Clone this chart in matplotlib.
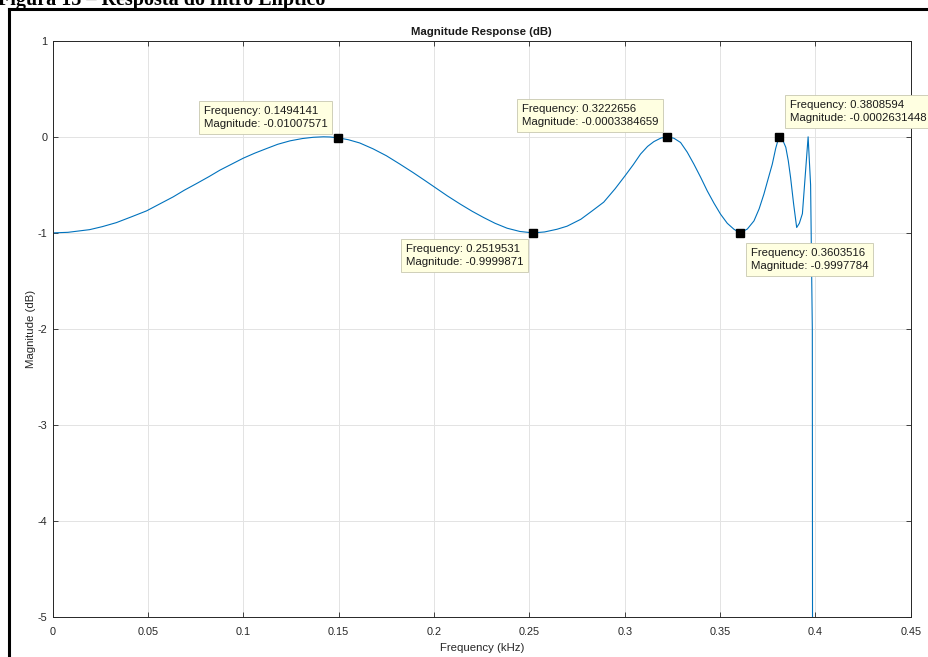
#!/usr/bin/env python3
"""
Magnitude response of the elliptic filter (recreated from a MATLAB fvtool figure)
"""

import matplotlib.pyplot as plt
from matplotlib.lines import Line2D

# -------------------------------
# Data
# -------------------------------
freq_khz = [0.0000, 0.0080, 0.0194, 0.0260, 0.0334, 0.0410, 0.0492, 0.0560,
            0.0632, 0.0690, 0.0755, 0.0820, 0.0877, 0.0940, 0.1000, 0.1060,
            0.1122, 0.1180, 0.1245, 0.1310, 0.1367, 0.1420, 0.1455, 0.1494,
            0.1550, 0.1610, 0.1680, 0.1750, 0.1820, 0.1890, 0.1950, 0.2006,
            0.2070, 0.2138, 0.2200, 0.2260, 0.2320, 0.2383, 0.2450, 0.2520,
            0.2580, 0.2645, 0.2698, 0.2770, 0.2830, 0.2890, 0.2950, 0.3004,
            0.3045, 0.3083, 0.3120, 0.3153, 0.3190, 0.3223, 0.3258, 0.3293,
            0.3328, 0.3363, 0.3398, 0.3433, 0.3468, 0.3503, 0.3538, 0.3573,
            0.3604, 0.3643, 0.3678, 0.3705, 0.3730, 0.3752, 0.3774, 0.3792,
            0.3809, 0.3828, 0.3845, 0.3858, 0.3870, 0.3886, 0.3902, 0.3916,
            0.3932, 0.3947, 0.3962, 0.3975, 0.3984, 0.3994]
mag_db = [-1.000, -0.994, -0.966, -0.935, -0.893, -0.835, -0.771, -0.700,
          -0.625, -0.556, -0.486, -0.414, -0.347, -0.283, -0.222, -0.170,
          -0.122, -0.078, -0.042, -0.018, -0.005, 0.000, -0.002, -0.010,
          -0.030, -0.064, -0.125, -0.197, -0.283, -0.372, -0.452, -0.528,
          -0.615, -0.701, -0.775, -0.840, -0.900, -0.951, -0.985, -1.000,
          -0.990, -0.962, -0.930, -0.858, -0.770, -0.680, -0.540, -0.400,
          -0.290, -0.180, -0.100, -0.050, -0.013, 0.000, -0.015, -0.059,
          -0.160, -0.285, -0.420, -0.563, -0.690, -0.806, -0.900, -0.962,
          -1.000, -0.960, -0.875, -0.750, -0.597, -0.440, -0.285, -0.120,
          0.000, -0.030, -0.110, -0.250, -0.424, -0.700, -0.944, -0.900,
          -0.800, -0.400, 0.000, -0.500, -2.000, -30.0]

# data tips
tip_freq = [0.1494141, 0.2519531, 0.3222656, 0.3603516, 0.3808594]
tip_mag = [-0.01007571, -0.9999871, -0.0003384659, -0.9997784, -0.0002631448]

x_ticks = [0, 0.05, 0.1, 0.15, 0.2, 0.25, 0.3, 0.35, 0.4, 0.45]
x_tick_labels = ["0", "0.05", "0.1", "0.15", "0.2", "0.25", "0.3", "0.35", "0.4", "0.45"]
y_ticks = [-5, -4, -3, -2, -1, 0, 1]

# where each tip box sits relative to its point (pixels, alignment)
tip_place = [((-10, 9), "right", "bottom"),
             ((-10, -11), "right", "top"),
             ((-9, 10), "right", "bottom"),
             ((11, -15), "left", "top"),
             ((11, 14), "left", "bottom")]

plt.rcParams["font.family"] = ["Liberation Sans", "DejaVu Sans"]
plt.rcParams["axes.unicode_minus"] = False

W, H = 929, 657
fig = plt.figure(figsize=(W / 100, H / 100), dpi=100)
ax = fig.add_axes([52.7 / W, 1 - 617.3 / H, (910.7 - 52.7) / W, (617.3 - 40.7) / H])

ax.plot(freq_khz, mag_db, color="#0072BD", linewidth=0.8)
ax.plot(tip_freq, tip_mag, linestyle="none", marker="s", markersize=5.2,
        color="black", zorder=5)

for f, m, (off, ha, va) in zip(tip_freq, tip_mag, tip_place):
    ax.annotate(f"Frequency: {f}\nMagnitude: {m}", xy=(f, m), xytext=off,
                textcoords="offset pixels", ha=ha, va=va, multialignment="left",
                fontsize=8.2, color="#1a1a1a", linespacing=1.4, zorder=6,
                annotation_clip=False,
                bbox=dict(boxstyle="square,pad=0.42", fc="#ffffe1", ec="#c8c8b0", lw=0.6))

ax.set_xlim(0, 0.45)
ax.set_ylim(-5, 1)
ax.set_xticks(x_ticks)
ax.set_xticklabels(x_tick_labels)
ax.set_yticks(y_ticks)
ax.grid(True, color="#e3e3e3", linewidth=0.7)
ax.set_axisbelow(True)
ax.tick_params(direction="in", length=3.6, width=0.6, top=True, right=True,
               labelsize=7.8, colors="#262626", pad=4)
ax.tick_params(axis="x", pad=7)
for s in ax.spines.values():
    s.set_color("#262626")
    s.set_linewidth(0.7)

ax.set_title("Magnitude Response (dB)", fontsize=8.2, fontweight="bold",
             color="#1a1a1a", pad=4)
ax.set_xlabel("Frequency (kHz)", fontsize=8.2, color="#262626", labelpad=4)
ax.set_ylabel("Magnitude (dB)", fontsize=8.2, color="#262626", labelpad=1)

# document frame and cut-off caption
fig.add_artist(Line2D([9 / W, 9 / W], [0, 1 - 9 / H], transform=fig.transFigure,
                      color="black", linewidth=2.2))
fig.add_artist(Line2D([9 / W, 1], [1 - 9 / H, 1 - 9 / H], transform=fig.transFigure,
                      color="black", linewidth=2.2))
fig.text(-2 / W, 1 - 5 / H, "Figura 15 – Resposta do filtro Elíptico",
         fontfamily="Liberation Serif", fontweight="bold", fontsize=14.5,
         va="baseline", ha="left")

fig.savefig("out.png", dpi=100)
